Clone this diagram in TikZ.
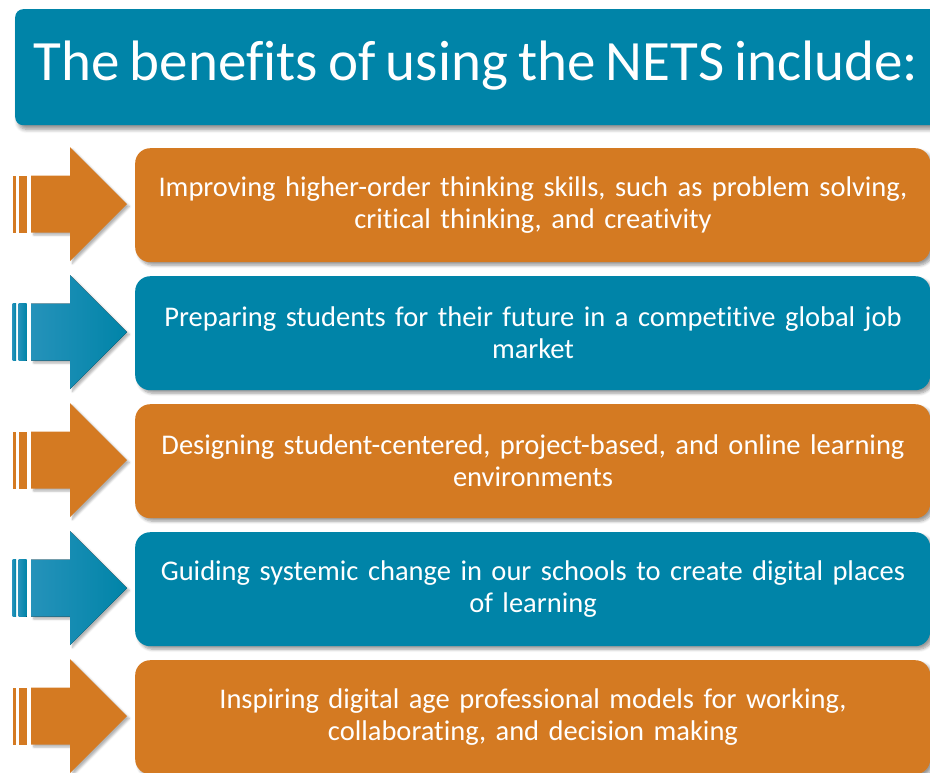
\documentclass[tikz,border=0pt]{standalone}
\usepackage{fontspec}
\setmainfont{Carlito}[Ligatures=NoCommon, WordSpace=0.8]
\usetikzlibrary{shadows.blur}
\definecolor{netsblue}{HTML}{0084A8}
\definecolor{netsbluelight}{HTML}{2592BA}
\definecolor{netsorange}{HTML}{D47A22}
\tikzset{
  itembox/.style={rounded corners=15pt, minimum width=795pt, minimum height=114pt,
    anchor=north west, inner sep=0pt,
    blur shadow={shadow xshift=3pt, shadow yshift=-3pt, shadow blur steps=6, shadow blur radius=3pt, shadow opacity=40}},
  titlebox/.style={rounded corners=8pt, fill=netsblue, minimum width=930pt, minimum height=116pt,
    anchor=north west, inner sep=0pt,
    blur shadow={shadow xshift=3pt, shadow yshift=-4pt, shadow blur steps=6, shadow blur radius=4pt, shadow opacity=45}},
  arrowshape/.style={blur shadow={shadow xshift=2.5pt, shadow yshift=-2.5pt, shadow blur steps=5, shadow blur radius=2pt, shadow opacity=30}},
  orangefill/.style={fill=netsorange},
  bluefill/.style={left color=netsbluelight, right color=netsblue},
  itemtext/.style={text=white, align=center, text width=790pt, inner sep=0pt,
    font=\fontsize{28.5pt}{32pt}\selectfont},
}
\newcommand{\bigarrow}[2]{%
  \fill[#2, arrowshape] (31,#1-28.5) -- (70,#1-28.5) -- (70,#1-57) -- (127,#1) -- (70,#1+57) -- (70,#1+28.5) -- (31,#1+28.5) -- cycle;
  \fill[#2] (18.5,#1-28.5) rectangle (26.5,#1+28.5);
  \fill[#2] (12.5,#1-28.5) rectangle (16,#1+28.5);
}
\begin{document}
\begin{tikzpicture}[x=1pt,y=-1pt]
\useasboundingbox (0,0) rectangle (930,772);
\node[titlebox] (title) at (15,9) {};
\node (titletext) at (476,66) [text=white, font=\fontsize{57pt}{60pt}\selectfont, inner sep=0pt] {The benefits of using the NETS include:};

\bigarrow{204}{orangefill}
\bigarrow{332}{bluefill}
\bigarrow{460}{orangefill}
\bigarrow{588}{bluefill}
\bigarrow{716}{orangefill}

\node[itembox, fill=netsorange] (b1) at (135,148) {};
\node[itembox, fill=netsblue] (b2) at (135,276) {};
\node[itembox, fill=netsorange] (b3) at (135,404) {};
\node[itembox, fill=netsblue] (b4) at (135,532) {};
\node[itembox, fill=netsorange] (b5) at (135,660) {};

\node[itemtext] (t1) at (533,205) {Improving higher-order thinking skills, such as problem solving,\\critical thinking, and creativity};
\node[itemtext] (t2) at (533,333) {Preparing students for their future in a competitive global job\\market};
\node[itemtext] (t3) at (533,461) {Designing student-centered, project-based, and online learning\\environments};
\node[itemtext] (t4) at (533,589) {Guiding systemic change in our schools to create digital places\\of learning};
\node[itemtext] (t5) at (533,717) {Inspiring digital age professional models for working,\\collaborating, and decision making};
\end{tikzpicture}
\end{document}
